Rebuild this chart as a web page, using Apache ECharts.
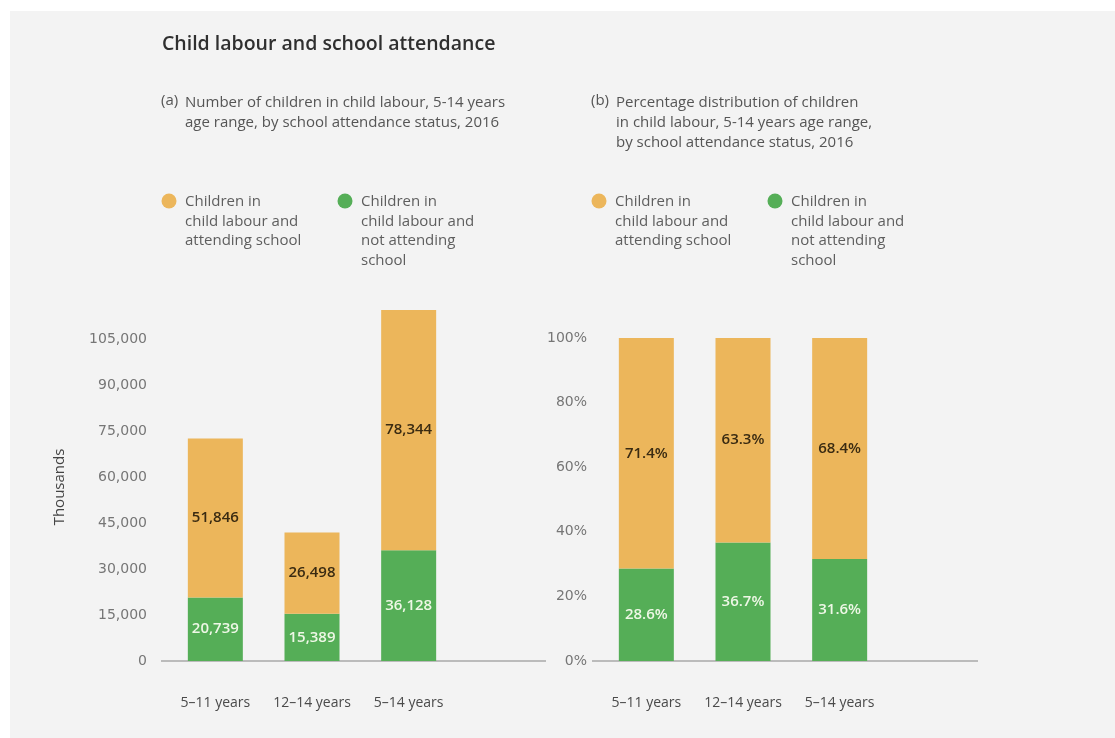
<!DOCTYPE html>
<html><head><meta charset="utf-8">
<script src="https://cdn.jsdelivr.net/npm/echarts@6/dist/echarts.min.js"></script>
<style>html,body{margin:0;padding:0;background:#fff}#c{width:1115px;height:738px}</style>
</head><body><div id="c"></div>
<script>
// ---- data ----
const categories = ['5–11 years', '12–14 years', '5–14 years'];
const attendingThousands = [51846, 26498, 78344];
const notAttendingThousands = [20739, 15389, 36128];
const attendingPct = [71.4, 63.3, 68.4];
const notAttendingPct = [28.6, 36.7, 31.6];
const seriesNames = ['Children in child labour and attending school', 'Children in child labour and not attending school'];
const legendLinesAttending = ['Children in', 'child labour and', 'attending school'];
const legendLinesNotAttending = ['Children in', 'child labour and', 'not attending', 'school'];
const titleText = 'Child labour and school attendance';
const subtitleA = ['Number of children in child labour, 5-14 years', 'age range, by school attendance status, 2016'];
const subtitleB = ['Percentage distribution of children', 'in child labour, 5-14 years age range,', 'by school attendance status, 2016'];
const countAxisName = 'Thousands';

// ---- style ----
const FONT = '"Open Sans", "DejaVu Sans", sans-serif';
const NUMFONT = '"DejaVu Sans", sans-serif';
const ORANGE = '#ecb65b';
const GREEN = '#55ae57';
const DARKLBL = '#3a2b12';
const LIGHTLBL = '#eef7e6';

const chart = echarts.init(document.getElementById('c'), null, {renderer: 'canvas'});

const gridL = {left: 167, width: 290, top: 293, height: 368};
const gridR = {left: 598, width: 290, top: 338, height: 323};
const axisY = 661;

function fmtNum(v) { return Number(v).toLocaleString('en-US'); }

const yLabel = {color: '#767676', fontFamily: NUMFONT, fontSize: 14};
const xLabel = {color: '#4a4a4a', fontFamily: FONT, fontSize: 14, margin: 35, interval: 0, hideOverlap: false};

function barLabel(color, fmt) {
  return {show: true, position: 'inside', color: color, fontFamily: FONT, fontSize: 15, fontWeight: 600,
    formatter: p => fmt(p.value)};
}

function legendGraphic(x, yTop, color, lines) {
  return [
    {type: 'circle', shape: {cx: x, cy: yTop + 9, r: 7.5}, style: {fill: color}},
    {type: 'text', x: x + 16, y: yTop, style: {text: lines.join('\n'), fill: '#5e5e5e', font: '15px ' + FONT, lineHeight: 19.5}}
  ];
}

const option = {
  animation: false,
  textStyle: {fontFamily: FONT},
  grid: [
    Object.assign({containLabel: false}, gridL),
    Object.assign({containLabel: false}, gridR)
  ],
  xAxis: [
    {type: 'category', gridIndex: 0, data: categories, axisLine: {show: false}, axisTick: {show: false}, axisLabel: xLabel},
    {type: 'category', gridIndex: 1, data: categories, axisLine: {show: false}, axisTick: {show: false}, axisLabel: xLabel}
  ],
  yAxis: [
    {type: 'value', gridIndex: 0, min: 0, max: 120000, interval: 15000,
      axisLabel: Object.assign({formatter: fmtNum, margin: 20, showMaxLabel: false}, yLabel),
      splitLine: {show: false}, axisLine: {show: false}, axisTick: {show: false}},
    {type: 'value', gridIndex: 1, min: 0, max: 100, interval: 20,
      axisLabel: Object.assign({formatter: v => v + '%', margin: 11}, yLabel),
      splitLine: {show: false}, axisLine: {show: false}, axisTick: {show: false}}
  ],
  series: [
    {name: seriesNames[1], type: 'bar', xAxisIndex: 0, yAxisIndex: 0, stack: 'a', barWidth: 55,
      data: notAttendingThousands, itemStyle: {color: GREEN}, label: barLabel(LIGHTLBL, fmtNum)},
    {name: seriesNames[0], type: 'bar', xAxisIndex: 0, yAxisIndex: 0, stack: 'a', barWidth: 55,
      data: attendingThousands, itemStyle: {color: ORANGE}, label: barLabel(DARKLBL, fmtNum)},
    {name: seriesNames[1], type: 'bar', xAxisIndex: 1, yAxisIndex: 1, stack: 'b', barWidth: 55,
      data: notAttendingPct, itemStyle: {color: GREEN}, label: barLabel(LIGHTLBL, v => v.toFixed(1) + '%')},
    {name: seriesNames[0], type: 'bar', xAxisIndex: 1, yAxisIndex: 1, stack: 'b', barWidth: 55,
      data: attendingPct, itemStyle: {color: ORANGE}, label: barLabel(DARKLBL, v => v.toFixed(1) + '%')}
  ],
  graphic: [
    {type: 'rect', z: -100, shape: {x: 10, y: 11, width: 1105, height: 727}, style: {fill: '#f3f3f3'}, silent: true},
    {type: 'text', x: 162, y: 34, style: {text: titleText, fill: '#2f2f2f', font: '600 19.5px ' + FONT}},
    {type: 'text', x: 161, y: 93, style: {text: '(a)', fill: '#555', font: '15px ' + FONT}},
    {type: 'text', x: 185, y: 93, style: {text: subtitleA.join('\n'), fill: '#555', font: '15px ' + FONT, lineHeight: 20}},
    {type: 'text', x: 591, y: 93, style: {text: '(b)', fill: '#555', font: '15px ' + FONT}},
    {type: 'text', x: 616, y: 93, style: {text: subtitleB.join('\n'), fill: '#555', font: '15px ' + FONT, lineHeight: 20}},
    ...legendGraphic(169, 192, ORANGE, legendLinesAttending),
    ...legendGraphic(345, 192, GREEN, legendLinesNotAttending),
    ...legendGraphic(599, 192, ORANGE, legendLinesAttending),
    ...legendGraphic(775, 192, GREEN, legendLinesNotAttending),
    {type: 'text', x: 60, y: 487, rotation: Math.PI / 2,
      style: {text: countAxisName, fill: '#444', font: '15px ' + FONT, align: 'center', verticalAlign: 'middle'}},
    {type: 'line', shape: {x1: 161, y1: axisY, x2: 546, y2: axisY}, style: {stroke: '#a9a9a9', lineWidth: 1.5}},
    {type: 'line', shape: {x1: 592, y1: axisY, x2: 978, y2: axisY}, style: {stroke: '#a9a9a9', lineWidth: 1.5}}
  ]
};
chart.setOption(option);
</script></body></html>
